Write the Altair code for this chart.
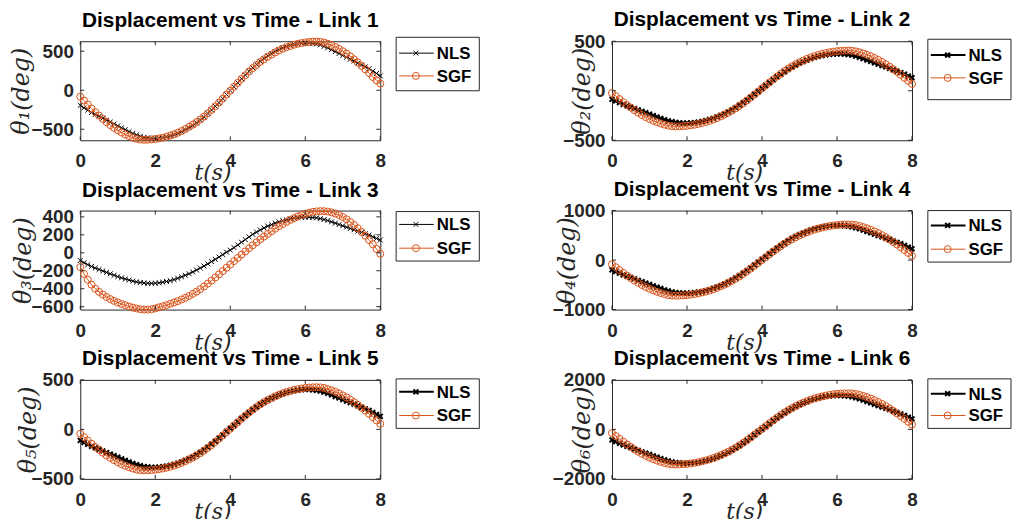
import altair as alt
import pandas as pd

# ---------------- data ----------------
T = [0.0, 0.1, 0.2, 0.3, 0.4, 0.5, 0.6, 0.7, 0.8, 0.9,
     1.0, 1.1, 1.2, 1.3, 1.4, 1.5, 1.6, 1.7, 1.8, 1.9,
     2.0, 2.1, 2.2, 2.3, 2.4, 2.5, 2.6, 2.7, 2.8, 2.9,
     3.0, 3.1, 3.2, 3.3, 3.4, 3.5, 3.6, 3.7, 3.8, 3.9,
     4.0, 4.1, 4.2, 4.3, 4.4, 4.5, 4.6, 4.7, 4.8, 4.9,
     5.0, 5.1, 5.2, 5.3, 5.4, 5.5, 5.6, 5.7, 5.8, 5.9,
     6.0, 6.1, 6.2, 6.3, 6.4, 6.5, 6.6, 6.7, 6.8, 6.9,
     7.0, 7.1, 7.2, 7.3, 7.4, 7.5, 7.6, 7.7, 7.8, 7.9, 8.0]

NLS1 = [-194, -225, -255, -286, -310, -334, -359, -383, -408, -432,
        -456, -481, -505, -530, -554, -572, -591, -603, -609, -615,
        -615, -612, -606, -597, -585, -569, -551, -530, -505, -478,
        -450, -417, -380, -341, -298, -252, -206, -158, -106, -54,
        -5, 44, 96, 148, 196, 242, 288, 331, 370, 407,
        440, 468, 495, 520, 541, 559, 575, 587, 596, 602,
        605, 605, 599, 593, 581, 562, 544, 520, 495, 471,
        446, 422, 398, 373, 349, 324, 300, 276, 245, 215, 184]
SGF1 = [-82, -132, -182, -233, -280, -324, -368, -409, -447, -482,
        -513, -542, -567, -589, -608, -623, -633, -636, -635, -631,
        -625, -617, -608, -595, -579, -564, -545, -523, -497, -469,
        -441, -409, -375, -337, -296, -252, -205, -157, -107, -56,
        -6, 44, 95, 145, 192, 240, 284, 325, 363, 397,
        429, 457, 485, 511, 533, 552, 567, 583, 596, 605,
        613, 619, 623, 624, 621, 611, 596, 577, 555, 530,
        501, 470, 435, 397, 356, 312, 268, 221, 170, 128, 85]

NLS2 = [-86, -103, -121, -138, -152, -166, -180, -194, -208, -222,
        -236, -250, -264, -278, -292, -303, -313, -320, -324, -327,
        -327, -325, -322, -317, -310, -301, -290, -278, -264, -248,
        -233, -213, -192, -170, -145, -119, -93, -65, -35, -5,
        23, 51, 81, 111, 139, 165, 191, 216, 238, 259,
        279, 294, 310, 324, 336, 347, 356, 363, 368, 371,
        373, 373, 370, 366, 359, 349, 338, 324, 310, 296,
        282, 268, 254, 240, 226, 212, 198, 184, 167, 149, 132]
SGF2 = [-23, -54, -84, -115, -144, -170, -197, -222, -245, -266,
        -285, -303, -318, -331, -343, -352, -358, -360, -359, -357,
        -354, -349, -343, -335, -326, -316, -305, -291, -276, -259,
        -241, -222, -201, -178, -153, -126, -98, -69, -38, -8,
        23, 54, 84, 115, 144, 172, 199, 224, 247, 268,
        287, 305, 322, 337, 350, 362, 372, 381, 389, 395,
        400, 403, 405, 406, 404, 398, 389, 377, 364, 349,
        331, 312, 291, 268, 243, 216, 190, 161, 130, 100, 69]

NLS3 = [-86, -110, -132, -152, -170, -186, -202, -218, -234, -250,
        -265, -279, -292, -304, -315, -324, -331, -336, -339, -340,
        -338, -334, -328, -320, -310, -298, -284, -268, -251, -233,
        -213, -192, -170, -147, -123, -98, -73, -47, -20, 7,
        30, 58, 88, 118, 147, 177, 205, 230, 254, 276,
        297, 313, 330, 344, 357, 368, 378, 385, 390, 394,
        396, 396, 392, 389, 381, 370, 359, 344, 330, 315,
        300, 286, 271, 256, 241, 227, 212, 197, 179, 160, 142]
SGF3 = [-158, -235, -300, -355, -400, -435, -465, -492, -515, -535,
        -553, -570, -584, -598, -610, -620, -628, -632, -632, -628,
        -620, -607, -595, -582, -567, -553, -538, -520, -501, -480,
        -458, -433, -405, -375, -343, -310, -275, -240, -203, -166,
        -130, -93, -57, -21, 15, 50, 84, 117, 149, 180,
        210, 240, 268, 295, 320, 344, 366, 386, 404, 420,
        434, 446, 455, 461, 464, 463, 459, 450, 437, 420,
        398, 373, 343, 310, 273, 233, 190, 143, 95, 43, -12]

NLS4 = [-197, -232, -266, -300, -328, -355, -382, -410, -437, -465,
        -492, -519, -547, -574, -602, -622, -643, -656, -663, -670,
        -670, -667, -660, -650, -636, -619, -598, -574, -547, -516,
        -485, -447, -406, -362, -314, -262, -211, -156, -98, -40,
        15, 70, 128, 186, 241, 292, 344, 392, 436, 477,
        515, 546, 577, 604, 628, 649, 666, 680, 690, 697,
        700, 700, 693, 686, 673, 652, 632, 604, 577, 549,
        522, 495, 467, 440, 412, 385, 358, 330, 296, 262, 227]
SGF4 = [-86, -144, -202, -259, -313, -364, -414, -461, -504, -544,
        -580, -612, -641, -666, -688, -706, -716, -720, -719, -714,
        -708, -698, -688, -673, -655, -637, -616, -590, -562, -529,
        -497, -461, -421, -378, -331, -281, -227, -173, -115, -58,
        0, 58, 115, 173, 227, 281, 331, 378, 421, 461,
        497, 529, 562, 590, 616, 637, 655, 673, 688, 698,
        708, 714, 719, 720, 716, 706, 688, 666, 641, 612,
        580, 544, 504, 461, 414, 364, 313, 259, 202, 144, 86]

NLS5 = [-112, -132, -151, -171, -187, -202, -218, -234, -249, -265,
        -281, -297, -312, -328, -344, -356, -367, -375, -379, -383,
        -383, -381, -377, -371, -363, -354, -342, -328, -312, -295,
        -277, -255, -232, -206, -179, -149, -120, -88, -55, -21,
        10, 41, 75, 108, 140, 169, 199, 226, 252, 275,
        297, 315, 332, 348, 362, 374, 383, 391, 397, 401,
        403, 403, 399, 395, 387, 376, 364, 348, 332, 317,
        301, 285, 269, 254, 238, 222, 207, 191, 171, 151, 132]
SGF5 = [-44, -78, -112, -145, -177, -206, -236, -263, -288, -311,
        -332, -351, -368, -383, -395, -406, -412, -414, -413, -411,
        -407, -401, -395, -387, -376, -366, -353, -338, -322, -303,
        -284, -263, -240, -215, -187, -158, -126, -95, -61, -28,
        6, 40, 73, 107, 138, 170, 199, 227, 252, 275,
        296, 315, 334, 350, 365, 378, 388, 399, 407, 413,
        419, 423, 425, 426, 424, 418, 407, 395, 380, 363,
        344, 323, 300, 275, 248, 218, 189, 157, 124, 90, 56]

NLS6 = [-425, -493, -562, -630, -685, -740, -795, -849, -904, -959,
        -1014, -1069, -1123, -1178, -1233, -1274, -1315, -1343, -1356, -1370,
        -1370, -1363, -1350, -1329, -1302, -1267, -1226, -1178, -1123, -1062,
        -1000, -925, -843, -754, -658, -555, -452, -343, -226, -110,
        0, 110, 226, 343, 452, 555, 658, 754, 843, 925,
        1000, 1062, 1123, 1178, 1226, 1267, 1302, 1329, 1350, 1363,
        1370, 1370, 1356, 1343, 1315, 1274, 1233, 1178, 1123, 1069,
        1014, 959, 904, 849, 795, 740, 685, 630, 562, 493, 425]
SGF6 = [-153, -268, -383, -498, -606, -707, -808, -902, -988, -1067,
        -1139, -1204, -1262, -1312, -1355, -1391, -1413, -1420, -1417, -1409,
        -1396, -1377, -1355, -1326, -1290, -1254, -1211, -1161, -1103, -1038,
        -974, -902, -822, -736, -642, -542, -434, -326, -210, -95,
        20, 135, 250, 366, 474, 582, 682, 776, 862, 942,
        1014, 1078, 1143, 1201, 1251, 1294, 1330, 1366, 1395, 1417,
        1436, 1449, 1457, 1460, 1453, 1431, 1395, 1352, 1302, 1244,
        1179, 1107, 1028, 942, 848, 747, 646, 538, 423, 308, 193]

TITLES = ["Displacement vs Time - Link 1", "Displacement vs Time - Link 2",
          "Displacement vs Time - Link 3", "Displacement vs Time - Link 4",
          "Displacement vs Time - Link 5", "Displacement vs Time - Link 6"]
YLABELS = ["θ₁(deg)", "θ₂(deg)", "θ₃(deg)", "θ₄(deg)", "θ₅(deg)", "θ₆(deg)"]
XLABEL = "t(s)"
X_TICKS = [0, 2, 4, 6, 8]
Y_TICKS = [[-500, 0, 500], [-500, 0, 500], [-600, -400, -200, 0, 200, 400],
           [-1000, 0, 1000], [-500, 0, 500], [-2000, 0, 2000]]
Y_DOMAINS = [[-641, 628], [-500, 500], [-632, 470],
             [-1000, 1000], [-500, 500], [-2000, 2000]]
LEGEND = ["NLS", "SGF"]

# ---------------- styling ----------------
W, H = 303, 100
AX = "#262626"
ORANGE = "#D95319"
XPATH = "M-1,-1L1,1M-1,1L1,-1"
LBL_FONT = "Liberation Sans"
MATH_FONT = "DejaVu Serif"

# per panel: y-title offset, NLS line width, legend box top/bottom, legend row ys, title offset
STYLE = [
    dict(ytx=-59, lw=1, b0=-4, b1=50, r1=12, r2=35, toff=5),
    dict(ytx=-30, lw=2, b0=-2, b1=59, r1=14, r2=37, toff=2),
    dict(ytx=-57, lw=1, b0=1, b1=51, r1=14, r2=38, toff=5),
    dict(ytx=-45, lw=2, b0=0, b1=52, r1=15, r2=39, toff=2),
    dict(ytx=-52, lw=2, b0=-1, b1=49, r1=12, r2=36, toff=2),
    dict(ytx=-30, lw=2, b0=-1, b1=49, r1=14, r2=36, toff=2),
]


def panel(i, nls, sgf):
    st = STYLE[i]
    df = pd.DataFrame({"t": T, "NLS": nls, "SGF": sgf})
    xscale = alt.Scale(domain=[0, 8], nice=False, zero=False)
    yscale = alt.Scale(domain=Y_DOMAINS[i], nice=False, zero=False)
    xaxis = alt.Axis(values=X_TICKS, format="d", title=XLABEL, ticks=False, domain=False,
                     grid=False, labelFlush=False, labelFont=LBL_FONT, labelFontWeight="bold",
                     labelFontSize=19, labelColor=AX, labelPadding=12,
                     titleFont=MATH_FONT, titleFontStyle="italic", titleFontWeight="normal",
                     titleFontSize=22, titleColor=AX, titleX=W / 2 - 18, titleY=33,
                     titleAlign="center", titleBaseline="middle")
    yaxis = alt.Axis(values=Y_TICKS[i], format="d", title=YLABELS[i], ticks=False, domain=False,
                     grid=False, labelOverlap=False, labelFlush=False, labelFont=LBL_FONT,
                     labelFontWeight="bold", labelFontSize=19, labelColor=AX, labelPadding=7,
                     titleFont=MATH_FONT, titleFontStyle="italic", titleFontWeight="normal",
                     titleFontSize=24, titleColor=AX, titleX=st["ytx"], titleY=H / 2,
                     titleAngle=270, titleAlign="center", titleBaseline="middle")
    x = alt.X("t:Q", scale=xscale, axis=xaxis)
    base = alt.Chart(df)
    layers = [
        base.mark_line(color="black", strokeWidth=st["lw"]).encode(
            x=x, y=alt.Y("NLS:Q", scale=yscale, axis=yaxis)),
        base.mark_point(shape=XPATH, filled=False, color="black", size=24,
                        strokeWidth=st["lw"], opacity=1).encode(
            x=x, y=alt.Y("NLS:Q", scale=yscale, axis=yaxis)),
        base.mark_line(color=ORANGE, strokeWidth=1).encode(
            x=x, y=alt.Y("SGF:Q", scale=yscale, axis=yaxis)),
        base.mark_point(shape="circle", filled=False, color=ORANGE, size=50,
                        strokeWidth=1, opacity=1).encode(
            x=x, y=alt.Y("SGF:Q", scale=yscale, axis=yaxis)),
    ]
    # inward MATLAB-style tick marks on all four sides
    xt = alt.Chart(pd.DataFrame({"tk": X_TICKS}))
    yt = alt.Chart(pd.DataFrame({"tk": Y_TICKS[i]}))
    xtk = alt.X("tk:Q", scale=xscale, axis=xaxis)
    ytk = alt.Y("tk:Q", scale=yscale, axis=yaxis)
    layers += [
        xt.mark_rule(color=AX, strokeWidth=1).encode(x=xtk, y=alt.value(H), y2=alt.value(H - 4)),
        xt.mark_rule(color=AX, strokeWidth=1).encode(x=xtk, y=alt.value(0), y2=alt.value(4)),
        yt.mark_rule(color=AX, strokeWidth=1).encode(y=ytk, x=alt.value(0), x2=alt.value(4)),
        yt.mark_rule(color=AX, strokeWidth=1).encode(y=ytk, x=alt.value(W), x2=alt.value(W - 4)),
    ]
    # legend box outside the plot, to the right
    one = alt.Chart(pd.DataFrame({"lab": ["box"]}))
    layers.append(one.mark_rect(fill="white", stroke=AX, strokeWidth=1).encode(
        x=alt.value(W + 16), x2=alt.value(W + 100), y=alt.value(st["b0"]), y2=alt.value(st["b1"])))
    entries = [(LEGEND[0], st["r1"], "black", XPATH, 24, st["lw"]),
               (LEGEND[1], st["r2"], ORANGE, "circle", 50, 1)]
    for lab, yy, col, shp, sz, sw in entries:
        d = alt.Chart(pd.DataFrame({"lab": [lab]}))
        layers.append(d.mark_rule(color=col, strokeWidth=sw).encode(
            x=alt.value(W + 19), x2=alt.value(W + 54), y=alt.value(yy)))
        layers.append(d.mark_point(shape=shp, filled=False, color=col, size=sz,
                                   strokeWidth=sw, opacity=1).encode(
            x=alt.value(W + 36), y=alt.value(yy)))
        layers.append(d.mark_text(align="left", baseline="middle", font=LBL_FONT, fontSize=17,
                                  fontWeight="bold", color="black").encode(
            x=alt.value(W + 57), y=alt.value(yy + 1), text="lab:N"))
    return alt.layer(*layers).properties(
        width=W, height=H,
        title=alt.TitleParams(TITLES[i], font=LBL_FONT, fontSize=21, fontWeight="bold",
                              color="black", anchor="middle", frame="group", offset=st["toff"]),
    )


panels = [panel(0, NLS1, SGF1), panel(1, NLS2, SGF2), panel(2, NLS3, SGF3),
          panel(3, NLS4, SGF4), panel(4, NLS5, SGF5), panel(5, NLS6, SGF6)]

chart = alt.concat(*panels, columns=2, spacing={"row": 71, "column": 234}, bounds="flush").properties(
    padding={"left": 1, "top": -2, "right": 0, "bottom": 0}
).configure_view(stroke=AX, strokeWidth=1)

chart.save("out.html", embed_options={"renderer": "svg", "actions": False})
